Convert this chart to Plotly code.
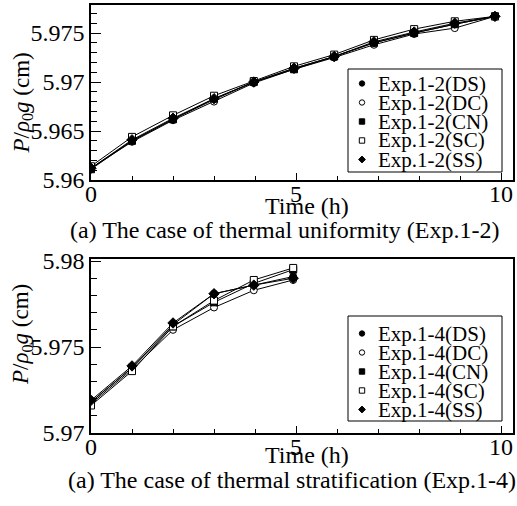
import plotly.graph_objects as go

# ---------------- data ----------------
t_12 = [0, 1, 2, 3, 3.97, 4.95, 5.93, 6.9, 7.88, 8.87, 9.85]
ds_12 = [5.9612, 5.9640, 5.9662, 5.9682, 5.9700, 5.9714, 5.9726, 5.9740, 5.9750, 5.9759, 5.9767]
dc_12 = [5.9612, 5.9639, 5.9661, 5.9680, 5.9699, 5.9713, 5.9725, 5.9738, 5.9749, 5.9755, 5.9767]
cn_12 = [5.9611, 5.9640, 5.9662, 5.9683, 5.9700, 5.9713, 5.9726, 5.9740, 5.9750, 5.9759, 5.9767]
sc_12 = [5.9614, 5.9644, 5.9666, 5.9686, 5.9701, 5.9716, 5.9728, 5.9743, 5.9754, 5.9762, 5.9767]
ss_12 = [5.9612, 5.9641, 5.9663, 5.9683, 5.9700, 5.9714, 5.9726, 5.9741, 5.9751, 5.9760, 5.9767]

t_14 = [0, 1, 2, 3, 3.97, 4.93]
ds_14 = [5.9718, 5.9738, 5.9763, 5.9781, 5.9786, 5.9791]
dc_14 = [5.9717, 5.9737, 5.9760, 5.9773, 5.9783, 5.9789]
cn_14 = [5.9718, 5.9738, 5.9762, 5.9776, 5.9787, 5.9795]
sc_14 = [5.9716, 5.9736, 5.9762, 5.9777, 5.9789, 5.9796]
ss_14 = [5.9719, 5.9739, 5.9764, 5.9781, 5.9786, 5.9790]

case_tags = ["DS", "DC", "CN", "SC", "SS"]
x_ticks = [0, 5, 10]
x_ticktext = ["0", "5", "10"]
y_ticks_12 = [5.96, 5.965, 5.97, 5.975]
y_ticktext_12 = ["5.96", "5.965", "5.97", "5.975"]
y_ticks_14 = [5.97, 5.975, 5.98]
y_ticktext_14 = ["5.97", "5.975", "5.98"]
caption_12 = "(a) The case of thermal uniformity (Exp.1-2)"
caption_14 = "(a) The case of thermal stratification (Exp.1-4)"

# ---------------- styling ----------------
W, H = 517, 506
ML, MR, MT, MB = 91, 4, 5, 73
PW = W - ML - MR
PH = H - MT - MB
SERIF = "Liberation Serif, Times New Roman, serif"

def px_x(px):
    return (px - ML) / PW

def px_y(py):
    return (H - MB - py) / PH

marker_styles = [
    dict(symbol="circle", size=7, color="black", line=dict(color="black", width=1)),
    dict(symbol="circle", size=7, color="white", line=dict(color="black", width=1)),
    dict(symbol="square", size=7, color="black", line=dict(color="black", width=1)),
    dict(symbol="square", size=7, color="white", line=dict(color="black", width=1)),
    dict(symbol="diamond", size=8, color="black", line=dict(color="black", width=1)),
]

fig = go.Figure()
series_12 = [ds_12, dc_12, cn_12, sc_12, ss_12]
series_14 = [ds_14, dc_14, cn_14, sc_14, ss_14]
for tag, vals, mk in zip(case_tags, series_12, marker_styles):
    fig.add_trace(go.Scatter(x=t_12, y=vals, mode="lines+markers", name=f"Exp.1-2({tag})",
                             line=dict(color="black", width=1), marker=mk,
                             xaxis="x", yaxis="y", showlegend=False))
for tag, vals, mk in zip(case_tags, series_14, marker_styles):
    fig.add_trace(go.Scatter(x=t_14, y=vals, mode="lines+markers", name=f"Exp.1-4({tag})",
                             line=dict(color="black", width=1), marker=mk,
                             xaxis="x2", yaxis="y2", showlegend=False))

top_domain = [px_y(180), 1.0]
bot_domain = [0.0, px_y(259)]

def xaxis_cfg(anchor):
    return dict(anchor=anchor, domain=[0, 1], range=[0, 10.29], automargin=False,
                tickvals=x_ticks, ticktext=x_ticktext, ticks="inside", ticklen=7,
                tickwidth=1, tickcolor="black", ticklabelstandoff=-9,
                minor=dict(tickvals=list(range(0, 11)), ticks="inside", ticklen=4,
                           tickwidth=1, tickcolor="black"),
                showline=True, linecolor="black", linewidth=1.5, mirror=True,
                showgrid=False, zeroline=False,
                tickfont=dict(family=SERIF, size=24, color="black"))

def yaxis_cfg(anchor, domain, rng, tv, tt, minor_vals):
    return dict(anchor=anchor, domain=domain, range=rng, automargin=False,
                tickvals=tv, ticktext=tt, ticks="inside", ticklen=10,
                tickwidth=1, tickcolor="black",
                minor=dict(tickvals=minor_vals, ticks="inside", ticklen=6,
                           tickwidth=1, tickcolor="black"),
                showline=True, linecolor="black", linewidth=1.5, mirror=True,
                showgrid=False, zeroline=False,
                tickfont=dict(family=SERIF, size=24, color="black"))

minor_12 = [round(5.960 + 0.001 * i, 3) for i in range(18)]
minor_14 = [round(5.970 + 0.001 * i, 3) for i in range(11)]

fig.update_layout(
    template="none",
    width=W, height=H,
    margin=dict(l=ML, r=MR, t=MT, b=MB, autoexpand=False),
    paper_bgcolor="white", plot_bgcolor="white",
    showlegend=False,
    xaxis=xaxis_cfg("y"),
    yaxis=yaxis_cfg("x", top_domain, [5.96, 5.97786], y_ticks_12, y_ticktext_12, minor_12),
    xaxis2=xaxis_cfg("y2"),
    yaxis2=yaxis_cfg("x2", bot_domain, [5.97, 5.98012], y_ticks_14, y_ticktext_14, minor_14),
)

ann = []
shapes = []
ytitle = "<i>P</i>/<i>\u03C1</i><sub>0</sub><i>g</i> (cm)"
for yc in (103.5, 335):
    ann.append(dict(text=ytitle, x=px_x(22), y=px_y(yc), xref="paper", yref="paper",
                    showarrow=False, textangle=-90, xanchor="center", yanchor="middle",
                    font=dict(family=SERIF, size=23, color="black")))
for yc in (206, 455):
    ann.append(dict(text="Time (h)", x=px_x(307), y=px_y(yc), xref="paper", yref="paper",
                    showarrow=False, xanchor="center", yanchor="middle",
                    font=dict(family=SERIF, size=24, color="black")))
ann.append(dict(text=caption_12, x=px_x(284), y=px_y(230), xref="paper", yref="paper",
                showarrow=False, xanchor="center", yanchor="middle",
                font=dict(family=SERIF, size=24, color="black")))
ann.append(dict(text=caption_14, x=px_x(292), y=px_y(480), xref="paper", yref="paper",
                showarrow=False, xanchor="center", yanchor="middle",
                font=dict(family=SERIF, size=24, color="black")))


def legend_marker(kind, cx, cy):
    r = 2.7
    if kind in ("DS", "DC"):
        fill = "black" if kind == "DS" else "white"
        return dict(type="circle", xref="paper", yref="paper",
                    x0=px_x(cx - r), x1=px_x(cx + r), y0=px_y(cy + r), y1=px_y(cy - r),
                    line=dict(color="black", width=1), fillcolor=fill, layer="above")
    if kind in ("CN", "SC"):
        fill = "black" if kind == "CN" else "white"
        return dict(type="rect", xref="paper", yref="paper",
                    x0=px_x(cx - r), x1=px_x(cx + r), y0=px_y(cy + r), y1=px_y(cy - r),
                    line=dict(color="black", width=1), fillcolor=fill, layer="above")
    d = 3.4
    pts = [(cx, cy - d), (cx + d, cy), (cx, cy + d), (cx - d, cy)]
    path = "M " + " L ".join(f"{px_x(a):.5f},{px_y(b):.5f}" for a, b in pts) + " Z"
    return dict(type="path", xref="paper", yref="paper", path=path,
                line=dict(color="black", width=1), fillcolor="black", layer="above")


# legend boxes (drawn manually to reproduce the tight row spacing)
for exp, box, first_row in (("1-2", (348, 69, 502, 172), 83.5), ("1-4", (348, 316, 502, 421), 333.5)):
    x0, y0, x1, y1 = box
    shapes.append(dict(type="rect", xref="paper", yref="paper",
                       x0=px_x(x0), x1=px_x(x1), y0=px_y(y1), y1=px_y(y0),
                       line=dict(color="black", width=1), fillcolor="white", layer="above"))
    for i, tag in enumerate(case_tags):
        yc = first_row + i * 19
        shapes.append(legend_marker(tag, 362, yc))
        ann.append(dict(text=f"Exp.{exp}({tag})", x=px_x(376), y=px_y(yc), xref="paper", yref="paper",
                        showarrow=False, xanchor="left", yanchor="middle",
                        font=dict(family=SERIF, size=21, color="black")))

fig.update_layout(annotations=ann, shapes=shapes)
fig.write_html("out.html")
